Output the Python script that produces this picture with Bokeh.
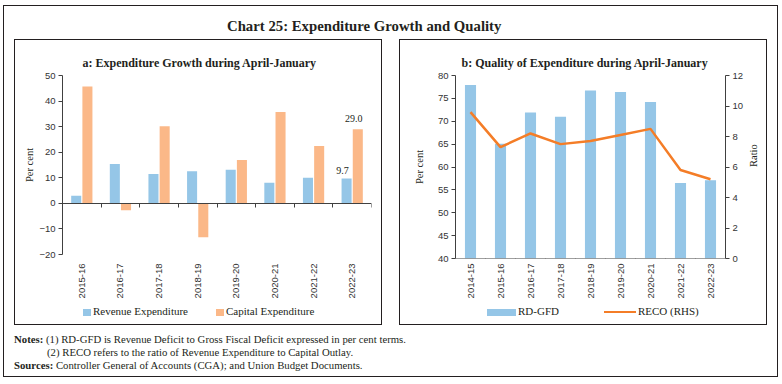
import math
from bokeh.plotting import figure
from bokeh.models import (ColumnDataSource, Range1d, LinearAxis, FixedTicker, LabelSet, Div, Spacer)
from bokeh.layouts import column, row
from bokeh.transform import dodge
from bokeh.embed import file_html
from bokeh.resources import INLINE

# ---------------- data ----------------
years_a = ["2015-16", "2016-17", "2017-18", "2018-19", "2019-20", "2020-21", "2021-22", "2022-23"]
revenue_exp = [3.0, 15.4, 11.5, 12.6, 13.1, 8.1, 10.0, 9.7]
capital_exp = [45.7, -2.7, 30.2, -13.3, 17.0, 35.7, 22.4, 29.0]

years_b = ["2014-15", "2015-16", "2016-17", "2017-18", "2018-19", "2019-20", "2020-21", "2021-22", "2022-23"]
rd_gfd = [77.9, 65.1, 71.9, 71.0, 76.7, 76.4, 74.2, 56.5, 57.1]
reco = [9.6, 7.3, 8.2, 7.5, 7.7, 8.1, 8.5, 5.8, 5.2]

ticks_a = [-20, -10, 0, 10, 20, 30, 40, 50]
ticks_b_left = [40, 45, 50, 55, 60, 65, 70, 75, 80]
ticks_b_right = [0, 2, 4, 6, 8, 10, 12]

# ---------------- style ----------------
SERIF = "Liberation Serif"
SANS = "Liberation Sans"
INK = "#231f20"
AX = "#404040"
BLUE = "#95C6E7"
ORANGE = "#FBB888"
LINE = "#F47D27"

BOX_CSS = (":host { position: relative; }"
           ":host::after { content: ''; position: absolute; left: 0; top: 0; right: 0; bottom: 0;"
           " border: 1px solid " + INK + "; pointer-events: none; z-index: 50; }")


def centers(cats):
    return [i + 0.5 for i in range(len(cats))]


def style_common(p):
    p.xgrid.visible = False
    p.ygrid.visible = False
    p.outline_line_color = None
    p.background_fill_color = "white"
    p.border_fill_color = "white"
    p.title.text_font = SERIF
    p.title.text_font_style = "bold"
    p.title.text_font_size = "12px"
    p.title.text_color = INK
    p.title.align = "left"


def style_yaxis(ax, label, label_standoff=7):
    ax.axis_line_color = AX
    ax.major_tick_line_color = AX
    ax.major_tick_out = 4
    ax.major_tick_in = 0
    ax.minor_tick_line_color = None
    ax.major_label_text_font = SANS
    ax.major_label_text_font_size = "9.5px"
    ax.major_label_text_color = "#333333"
    ax.major_label_standoff = 3
    ax.axis_label = label
    ax.axis_label_text_font = SERIF
    ax.axis_label_text_font_style = "normal"
    ax.axis_label_text_font_size = "10.5px"
    ax.axis_label_text_color = INK
    ax.axis_label_standoff = label_standoff


def style_cat_axis(ax, cats, standoff):
    pos = centers(cats)
    ax.ticker = FixedTicker(ticks=pos)
    ax.major_label_overrides = {x: c for x, c in zip(pos, cats)}
    ax.axis_line_color = None
    ax.major_tick_line_color = None
    ax.major_tick_out = 0
    ax.major_tick_in = 0
    ax.minor_tick_line_color = None
    ax.major_label_orientation = math.pi / 2
    ax.major_label_text_font = SANS
    ax.major_label_text_font_size = "9.5px"
    ax.major_label_text_color = "#333333"
    ax.major_label_standoff = standoff


def boundary_axis(n, loc):
    return LinearAxis(ticker=FixedTicker(ticks=list(range(0, n + 1))),
                      fixed_location=loc, axis_line_color=AX, major_tick_line_color=AX,
                      major_tick_out=4, major_tick_in=0, minor_tick_line_color=None,
                      major_label_text_color=None)


def swatch(color, w, h, left_gap):
    return ("<span style=\"display:inline-block;width:%dpx;height:%spx;background:%s;"
            "margin:0 2px 0 %dpx;\"></span>") % (w, h, color, left_gap)


def legend_div(pad_left, entries):
    html = ("<div style=\"display:flex;align-items:center;height:12px;margin-top:5px;padding-left:%dpx;"
            "font-family:'Liberation Serif';font-size:11px;color:%s;white-space:nowrap;\">") % (pad_left, INK)
    for sw, label in entries:
        html += sw + "<span>" + label + "</span>"
    html += "</div>"
    return Div(text=html, width=368, height=24, margin=(0, 0, 0, 0))


FIG_H = 262

# ---------------- panel a ----------------
xa = centers(years_a)
src_a = ColumnDataSource(dict(x=xa, rev=revenue_exp, cap=capital_exp))
pa = figure(width=368, height=FIG_H, x_range=Range1d(0, len(years_a)), y_range=Range1d(ticks_a[0], ticks_a[-1]),
            output_backend="svg", toolbar_location=None,
            min_border_left=48, min_border_right=11, min_border_top=36, min_border_bottom=FIG_H - 217,
            title="a: Expenditure Growth during April-January")
style_common(pa)
pa.title.offset = 20
pa.title.standoff = 12
style_yaxis(pa.yaxis[0], "Per cent", 1)
pa.yaxis[0].ticker = FixedTicker(ticks=ticks_a)
style_cat_axis(pa.xaxis[0], years_a, 9)
pa.add_layout(boundary_axis(len(years_a), 0), "below")

r_rev = pa.vbar(x=dodge("x", -0.145), top="rev", width=0.26, source=src_a,
                fill_color=BLUE, line_color=None)
r_cap = pa.vbar(x=dodge("x", 0.145), top="cap", width=0.26, source=src_a,
                fill_color=ORANGE, line_color=None)

lab_rev = ColumnDataSource(dict(x=[xa[-1]], v=[revenue_exp[-1]], t=["%.1f" % revenue_exp[-1]]))
lab_cap = ColumnDataSource(dict(x=[xa[-1]], v=[capital_exp[-1]], t=["%.1f" % capital_exp[-1]]))
for s, off, yo in ((lab_rev, -0.145, 8), (lab_cap, 0.145, 11)):
    pa.add_layout(LabelSet(x=dodge("x", off), y="v", text="t", source=s,
                           x_offset=-4, y_offset=yo, text_align="center", text_baseline="middle",
                           text_font=SANS, text_font_size="10px", text_color=INK))

leg_a = legend_div(69, [(swatch(BLUE, 8, 7, 0), "Revenue Expenditure"),
                        (swatch(ORANGE, 8, 7, 28), "Capital Expenditure")])

# ---------------- panel b ----------------
xb = centers(years_b)
src_b = ColumnDataSource(dict(x=xb, rd=rd_gfd, reco=reco))
pb = figure(width=368, height=FIG_H, x_range=Range1d(0, len(years_b)),
            y_range=Range1d(ticks_b_left[0], ticks_b_left[-1]),
            output_backend="svg", toolbar_location=None,
            min_border_left=56, min_border_right=41, min_border_top=36, min_border_bottom=FIG_H - 220,
            title="b: Quality of Expenditure during April-January")
style_common(pb)
pb.title.offset = 6
pb.title.standoff = 12
style_yaxis(pb.yaxis[0], "Per cent", 10)
pb.yaxis[0].ticker = FixedTicker(ticks=ticks_b_left)
style_cat_axis(pb.xaxis[0], years_b, 5)
pb.extra_y_ranges = {"ratio": Range1d(ticks_b_right[0], ticks_b_right[-1])}
rax = LinearAxis(y_range_name="ratio")
style_yaxis(rax, "Ratio")
rax.ticker = FixedTicker(ticks=ticks_b_right)
if hasattr(rax, "axis_label_orientation"):
    rax.axis_label_orientation = math.pi / 2
pb.add_layout(rax, "right")
pb.add_layout(boundary_axis(len(years_b), ticks_b_left[0]), "below")

r_rd = pb.vbar(x="x", top="rd", bottom=ticks_b_left[0], width=0.37, source=src_b,
               fill_color=BLUE, line_color=None)
r_reco = pb.line(x="x", y="reco", y_range_name="ratio", source=src_b,
                 line_color=LINE, line_width=2.5)

leg_b = legend_div(88, [(swatch(BLUE, 29, 7, 0), "RD-GFD"),
                        (swatch(LINE, 32, 2.5, 45), "RECO (RHS)")])

# ---------------- page ----------------
title_div = Div(text=("<div style=\"font-family:'Liberation Serif';font-weight:bold;font-size:14.75px;"
                      "line-height:18px;color:%s;padding:12px 0 0 224px;white-space:nowrap;\">"
                      "Chart 25: Expenditure Growth and Quality</div>") % INK,
                width=775, height=34, margin=(0, 0, 0, 0))
notes_div = Div(text=("<div style=\"font-family:'Liberation Serif';font-size:10.75px;line-height:13px;"
                      "color:%s;padding:8px 0 0 11px;white-space:nowrap;\">"
                      "<b>Notes:</b> (1) RD-GFD is Revenue Deficit to Gross Fiscal Deficit expressed in per cent terms.<br>"
                      "<span style=\"padding-left:33px\">(2) RECO refers to the ratio of Revenue Expenditure to Capital Outlay.</span><br>"
                      "<b>Sources:</b> Controller General of Accounts (CGA); and Union Budget Documents.</div>") % INK,
                width=775, height=52, margin=(0, 0, 0, 0))

box_a = column(pa, leg_a, stylesheets=[BOX_CSS])
box_b = column(pb, leg_b, stylesheets=[BOX_CSS])
panels = row(Spacer(width=11, height=286), box_a, Spacer(width=17, height=286), box_b,
             Spacer(width=11, height=286))
page = column(title_div, panels, notes_div,
              styles={"margin-left": "3px", "margin-top": "5px"},
              stylesheets=[BOX_CSS])

open("out.html", "w").write(file_html(page, INLINE))
